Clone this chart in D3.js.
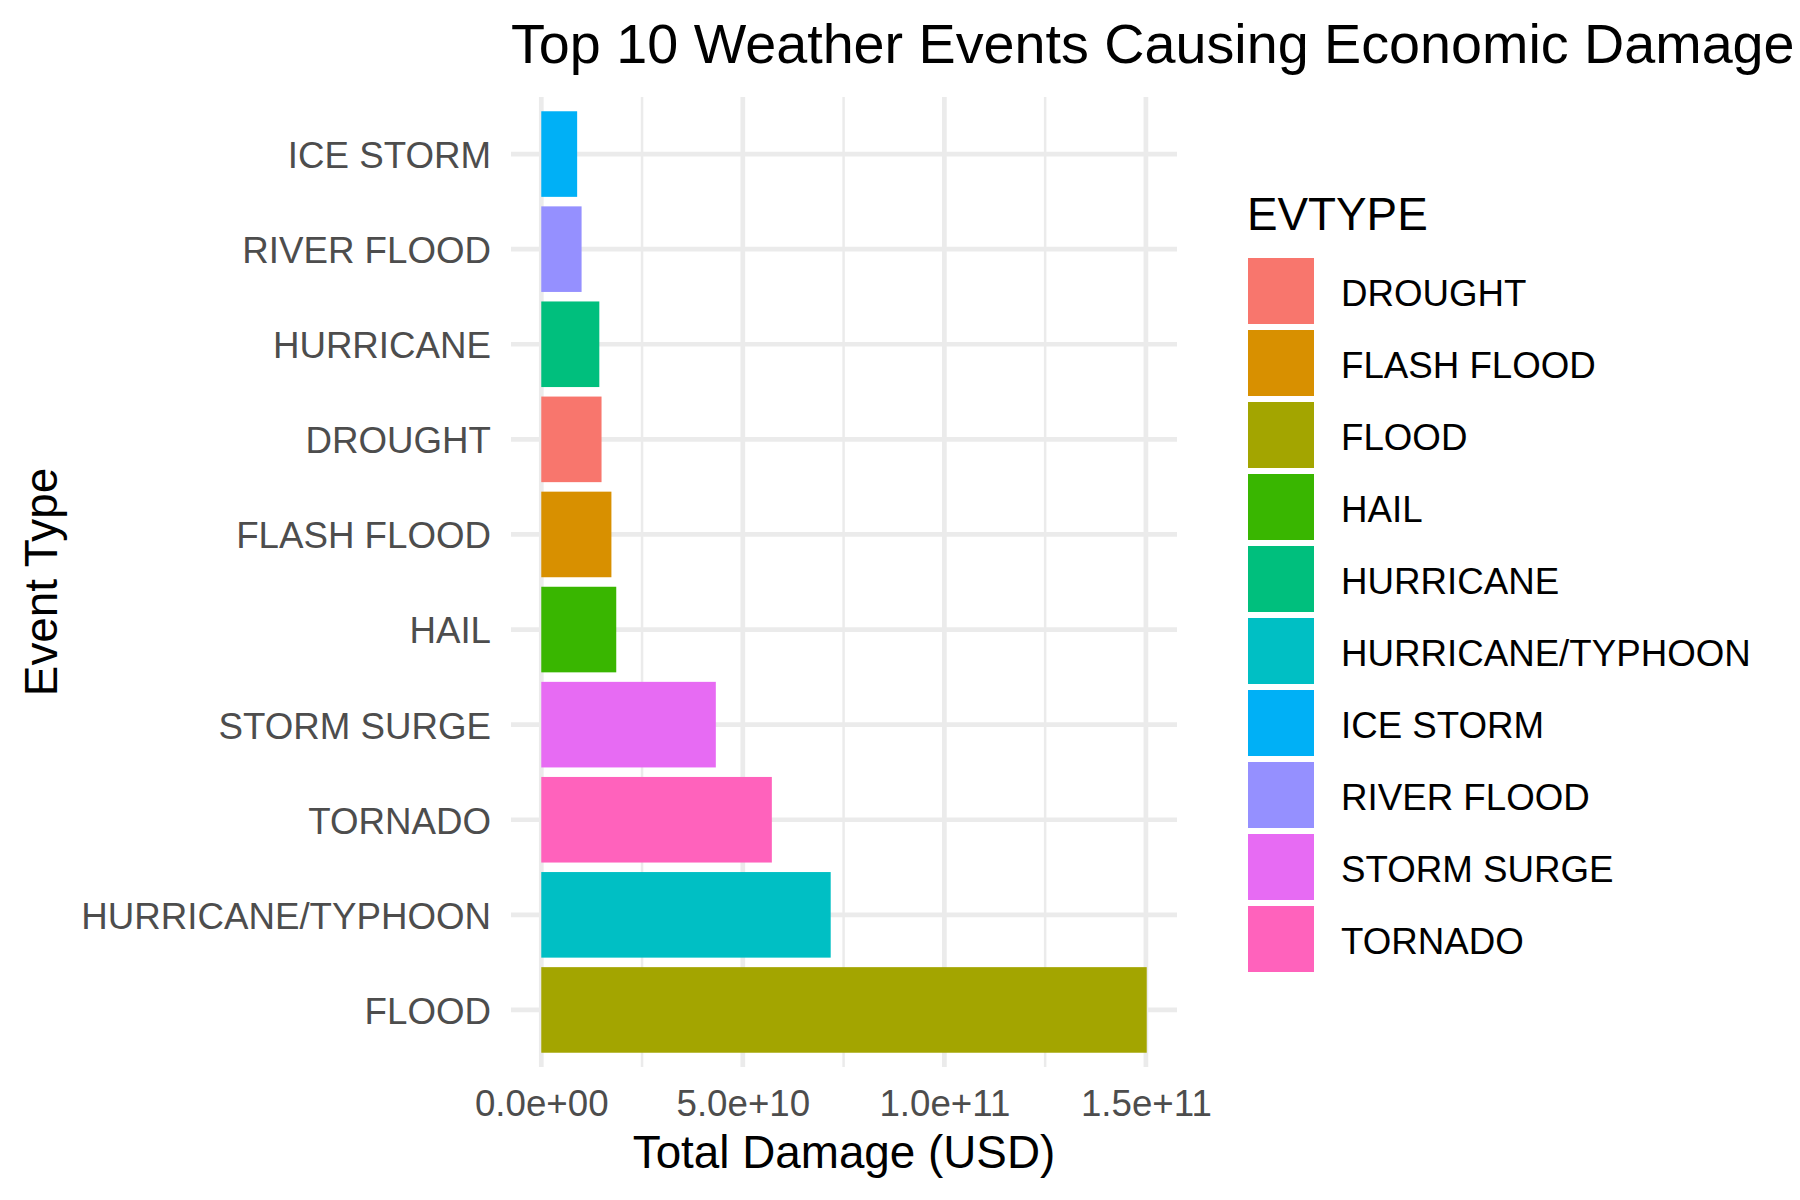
<!DOCTYPE html>
<html>
<head>
<meta charset="utf-8">
<script src="https://cdn.jsdelivr.net/npm/d3@7"></script>
<style>
  body { margin: 0; background: #fff; }
  svg { display: block; font-family: "Liberation Sans", Arial, sans-serif; }
</style>
</head>
<body>
<script>
// data (top to bottom as drawn)
var events = ['ICE STORM', 'RIVER FLOOD', 'HURRICANE', 'DROUGHT', 'FLASH FLOOD',
              'HAIL', 'STORM SURGE', 'TORNADO', 'HURRICANE/TYPHOON', 'FLOOD'];
var damage = [8.9e9, 10.0e9, 14.4e9, 14.95e9, 17.4e9,
              18.6e9, 43.3e9, 57.2e9, 71.8e9, 150.2e9];

// legend order + colours (ggplot hue palette)
var legendTypes = ['DROUGHT', 'FLASH FLOOD', 'FLOOD', 'HAIL', 'HURRICANE',
                   'HURRICANE/TYPHOON', 'ICE STORM', 'RIVER FLOOD', 'STORM SURGE', 'TORNADO'];
var legendColors = ['#F8766D', '#D89000', '#A3A500', '#39B600', '#00BF7D',
                    '#00BFC4', '#00B0F6', '#9590FF', '#E76BF3', '#FF62BC'];

var majorTicks = [0, 5e10, 1e11, 1.5e11];
var minorTicks = [2.5e10, 7.5e10, 1.25e11];

var width = 1800, height = 1200;

// panel box
var panel = { left: 511, right: 1177, top: 97, bottom: 1067 };

var svg = d3.select('body').append('svg')
    .attr('width', width)
    .attr('height', height);

var data = events.map(function(d, i) { return { name: d, value: damage[i] }; });

var maxVal = d3.max(damage);
var pad = (panel.right - panel.left) / 1.1 * 0.05;
var x = d3.scaleLinear()
    .domain([0, maxVal])
    .range([panel.left + pad, panel.right - pad]);

var y = d3.scaleBand()
    .domain(events)
    .range([panel.top, panel.bottom])
    .paddingInner(0.1)
    .paddingOuter(0.15);

var color = d3.scaleOrdinal()
    .domain(legendTypes)
    .range(legendColors);

// grid
svg.append('g')
    .selectAll('line')
    .data(minorTicks)
    .enter().append('line')
    .attr('x1', function(d) { return x(d); })
    .attr('x2', function(d) { return x(d); })
    .attr('y1', panel.top)
    .attr('y2', panel.bottom)
    .style('stroke', '#EBEBEB')
    .style('stroke-width', 2.5);

svg.append('g')
    .selectAll('line')
    .data(majorTicks)
    .enter().append('line')
    .attr('x1', function(d) { return x(d); })
    .attr('x2', function(d) { return x(d); })
    .attr('y1', panel.top)
    .attr('y2', panel.bottom)
    .style('stroke', '#EBEBEB')
    .style('stroke-width', 4.7);

svg.append('g')
    .selectAll('line')
    .data(events)
    .enter().append('line')
    .attr('x1', panel.left)
    .attr('x2', panel.right)
    .attr('y1', function(d) { return y(d) + y.bandwidth() / 2; })
    .attr('y2', function(d) { return y(d) + y.bandwidth() / 2; })
    .style('stroke', '#EBEBEB')
    .style('stroke-width', 4.7);

// bars
svg.selectAll('.bar')
    .data(data)
    .enter().append('rect')
    .attr('class', 'bar')
    .attr('x', x(0))
    .attr('y', function(d) { return y(d.name); })
    .attr('width', function(d) { return x(d.value) - x(0); })
    .attr('height', y.bandwidth())
    .style('fill', function(d) { return color(d.name); });

// y labels
svg.append('g')
    .selectAll('text')
    .data(events)
    .enter().append('text')
    .attr('x', 491)
    .attr('y', function(d) { return y(d) + y.bandwidth() / 2; })
    .attr('dy', '0.38em')
    .attr('text-anchor', 'end')
    .style('font-size', '36.7px')
    .style('fill', '#4D4D4D')
    .text(function(d) { return d; });

// x axis labels
function sci(v) {
    var s = d3.format('.1e')(v);
    var parts = s.split('e');
    var sign = parts[1].charAt(0);
    var ex = parts[1].slice(1);
    if (ex.length < 2) ex = '0' + ex;
    return parts[0] + 'e' + sign + ex;
}

var xAxis = svg.append('g')
    .attr('transform', 'translate(0,' + panel.bottom + ')')
    .call(d3.axisBottom(x).tickValues(majorTicks).tickFormat(sci).tickSize(0).tickPadding(49));
xAxis.select('.domain').remove();
xAxis.selectAll('text')
    .attr('dy', 0)
    .style('font-family', '"Liberation Sans", Arial, sans-serif')
    .style('font-size', '36.7px')
    .style('fill', '#4D4D4D');

// axis titles
svg.append('text')
    .attr('x', (panel.left + panel.right) / 2)
    .attr('y', 1168)
    .attr('text-anchor', 'middle')
    .style('font-size', '45.8px')
    .style('fill', '#000')
    .text('Total Damage (USD)');

svg.append('text')
    .attr('transform', 'translate(57,' + (panel.top + panel.bottom) / 2 + ') rotate(-90)')
    .attr('text-anchor', 'middle')
    .style('font-size', '45.8px')
    .style('fill', '#000')
    .text('Event Type');

// title
svg.append('text')
    .attr('x', panel.left)
    .attr('y', 63)
    .style('font-size', '55.7px')
    .style('fill', '#000')
    .text('Top 10 Weather Events Causing Economic Damage');

// legend
var legend = svg.append('g')
    .attr('transform', 'translate(1248,258)');

legend.append('text')
    .attr('x', -1)
    .attr('y', -28)
    .style('font-size', '45.8px')
    .style('fill', '#000')
    .text('EVTYPE');

var keys = legend.selectAll('.key')
    .data(legendTypes)
    .enter().append('g')
    .attr('class', 'key')
    .attr('transform', function(d, i) { return 'translate(0,' + i * 72 + ')'; });

keys.append('rect')
    .attr('width', 66)
    .attr('height', 66)
    .style('fill', function(d) { return color(d); });

keys.append('text')
    .attr('x', 93)
    .attr('y', 48)
    .style('font-size', '36.7px')
    .style('fill', '#000')
    .text(function(d) { return d; });
</script>
</body>
</html>
